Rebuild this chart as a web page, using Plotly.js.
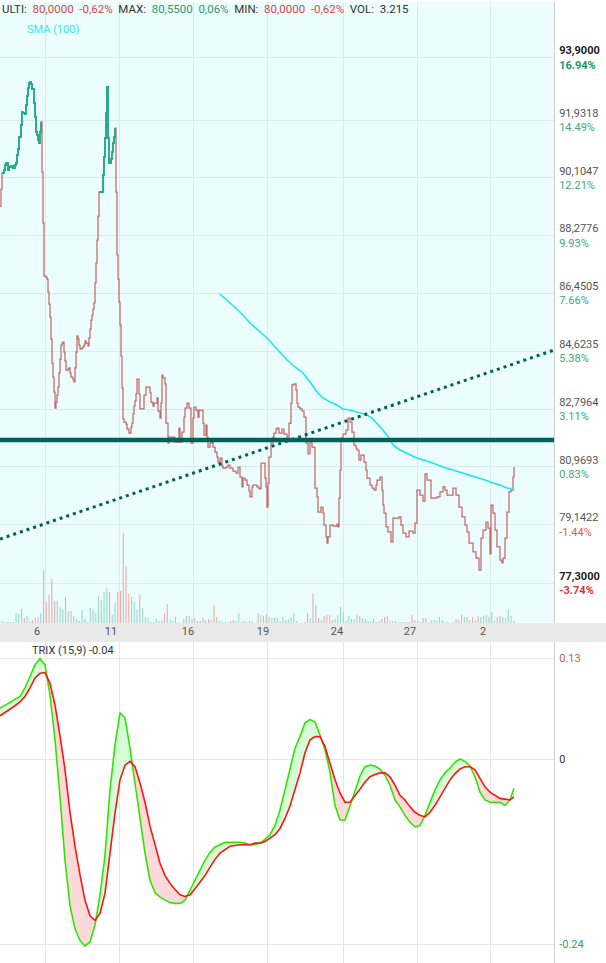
<!DOCTYPE html>
<html><head><meta charset="utf-8">
<script src="https://cdn.plot.ly/plotly-3.0.1.min.js"></script>
<style>html,body{margin:0;padding:0;background:#fff}#chart{width:606px;height:963px}</style>
</head><body><div id="chart"></div>
<script>
// ---------- data ----------
// x unit: time slot (one column of the original drawing)
const dayLabels = ['6','11','16','19','24','27','2'];
const dayLabelSlots = [37,111,188,263,337,410,483];
const dayGridSlots = [45,119,193,267,343,417,490];

const priceSlots = [0,1,2,4,5,6,8,9,11,13,15,16,17,18,19,21,22,23,25,26,27,28,29,30,31,32,34,35,36,37,38,39,40,41,
42,43,44,46,47,48,49,50,51,52,53,54,55,56,57,58,59,60,61,62,63,64,65,66,68,69,70,71,73,74,75,76,77,78,79,80,82,83,84,85,86,88,89,90,91,92,93,94,95,96,97,98,
99,103,104,105,106,107,108,109,111,112,113,114,115,
116,117,118,119,120,121,122,123,124,126,127,129,131,132,133,134,135,136,137,139,140,144,146,150,151,153,154,157,158,160,161,162,163,165,166,168,169,175,179,180,182,184,185,187,189,191,193,194,196,198,199,203,204,206,207,208,210,212,213,215,217,218,220,222,223,226,228,230,233,236,238,240,242,243,245,247,249,250,252,253,257,259,261,265,266,267,268,269,271,273,274,276,277,279,282,284,287,289,291,292,294,296,297,298,300,302,304,306,308,310,312,315,317,318,321,323,324,326,327,328,330,333,337,338,339,340,341,343,346,348,350,352,354,356,357,359,361,364,366,367,370,372,374,376,377,380,382,383,384,386,388,391,393,399,401,403,406,409,413,415,417,420,423,425,427,431,437,440,443,445,447,453,456,459,462,465,467,469,473,476,479,481,483,486,488,490,491,493,495,497,500,502,503,505,507,509,511,513,514];
const priceValues = [89.214,89.751,90.257,90.352,90.510,90.573,90.352,90.446,90.478,90.415,90.510,90.573,90.826,91.015,91.394,91.774,92.185,92.153,92.121,92.406,92.690,92.943,93.101,93.133,93.069,92.911,92.469,92.027,91.553,91.458,91.300,91.205,91.553,91.869,
90.288,88.677,87.002,86.970,86.907,86.496,86.117,85.706,85.011,84.252,83.810,83.336,82.830,83.020,83.241,83.494,83.937,84.379,84.821,84.884,84.916,84.600,84.316,84.031,84.063,84.095,83.937,83.810,83.716,83.653,84.095,84.600,85.106,85.011,84.821,84.695,84.727,84.758,84.821,84.948,84.884,84.790,85.043,85.327,85.611,85.769,85.959,86.149,86.781,87.413,88.139,88.898,
89.656,90.194,90.763,91.363,92.153,92.975,91.363,90.573,90.699,90.921,91.205,91.394,91.679,
89.656,87.666,86.907,86.180,85.453,84.474,83.462,82.483,82.388,82.324,82.166,82.040,82.230,82.356,82.641,82.893,83.052,83.273,83.747,83.273,82.799,83.241,83.494,83.305,83.020,82.893,82.988,83.147,82.735,82.514,82.988,83.873,83.779,83.589,82.356,81.724,81.914,81.756,82.198,81.756,82.072,82.546,82.830,82.988,82.830,81.724,82.514,82.862,82.767,82.546,82.767,82.356,81.977,82.293,81.914,81.598,81.724,81.756,81.598,81.440,81.282,81.124,81.250,80.997,80.934,80.966,81.029,80.934,80.839,80.776,80.966,80.650,80.334,80.618,80.555,80.397,80.208,80.018,80.334,80.397,80.334,80.271,81.092,80.618,80.334,79.701,80.460,81.282,81.724,81.914,82.040,82.166,82.198,82.040,82.166,82.008,81.914,82.356,82.988,83.558,83.589,83.399,82.988,82.862,82.799,82.735,82.546,81.724,81.377,81.756,81.598,80.302,80.018,79.543,79.701,79.511,79.133,78.754,78.564,78.754,79.133,79.101,79.164,79.070,79.986,80.871,81.882,82.008,82.135,82.514,82.388,82.072,81.661,81.566,81.503,81.187,81.345,81.124,80.871,80.618,80.397,80.302,80.239,80.397,80.555,80.650,80.239,79.765,79.511,79.070,78.912,78.596,79.354,79.386,79.133,78.880,78.754,78.943,78.880,79.196,80.239,80.081,79.891,80.745,80.555,79.986,80.018,80.176,80.334,80.239,80.081,80.302,80.081,79.701,79.386,79.133,78.912,78.564,78.280,78.090,77.711,78.722,78.975,79.227,79.038,78.217,79.765,79.511,78.975,78.438,78.027,77.933,78.090,78.722,79.543,80.176,80.239,80.650,80.966];
// stretches drawn in the "rising" colour
const upStretches = [[2,41],[99,115]];

const smaSlots = [220,230,240,250,260,267,277,287,295,303,310,317,323,330,337,343,350,357,367,372,377,382,387,393,400,408,417,430,443,453,463,477,485,493,500,507,513];
const smaValues = [86.433,86.149,85.864,85.516,85.232,85.043,84.695,84.347,84.126,83.937,83.653,83.336,83.147,83.020,82.925,82.799,82.767,82.704,82.609,82.514,82.356,82.166,81.977,81.661,81.503,81.377,81.250,81.124,80.966,80.871,80.776,80.650,80.555,80.460,80.397,80.302,80.271];

const volumeValues = [2,1,1,1,1,10,9,14,5,7,2,3,5,6,10,53,21,28,44,22,22,16,14,26,12,12,7,4,2,13,4,1,15,13,10,27,23,31,35,31,8,20,31,32,90,57,29,26,21,13,28,15,6,5,1,1,4,2,3,10,19,4,2,6,1,0,4,7,7,4,5,2,2,5,3,4,4,18,6,2,1,1,1,2,3,2,10,1,2,1,2,1,0,10,8,7,9,6,5,5,5,2,6,3,4,6,10,2,0,0,1,10,5,29,18,5,3,7,8,8,3,4,8,16,11,2,7,4,4,8,7,5,4,2,2,4,1,2,4,6,7,2,2,2,1,1,1,1,1,8,3,3,1,5,5,1,3,3,3,6,3,1,1,0,1,4,3,8,6,6,3,6,3,7,6,7,8,6,11,2,6,7,6,5,13,7,2];
const volumeUp = [1,1,1,1,0,1,1,1,0,1,1,0,0,0,1,0,0,0,0,0,1,1,1,0,1,0,1,1,0,1,1,1,1,1,1,1,1,1,1,0,1,1,0,0,0,0,0,1,1,1,0,1,1,1,1,1,1,1,1,0,0,1,1,0,1,1,1,1,0,0,1,0,1,0,0,0,1,0,0,1,1,1,1,0,0,1,1,1,1,1,0,1,1,0,1,1,0,1,1,1,1,0,1,0,1,1,1,1,1,1,0,0,1,0,0,0,1,0,0,1,0,1,1,1,1,1,1,1,1,0,0,1,0,1,1,0,1,0,0,0,0,0,1,1,1,1,1,0,1,0,1,1,1,0,0,0,1,1,1,1,1,1,1,1,1,0,0,0,1,0,1,0,1,0,1,1,1,0,1,1,0,0,1,1,1,1,1];

const supportLevel = 81.82;
const trendLineStart = 78.69, trendLineEnd = 84.66;

const priceTicks = [93.9,91.9318,90.1047,88.2776,86.4505,84.6235,82.7964,80.9693,79.1422,77.3];
const priceTickText = ['93,9000','91,9318','90,1047','88,2776','86,4505','84,6235','82,7964','80,9693','79,1422','77,3000'];
const priceTickPct = ['16.94%','14.49%','12.21%','9.93%','7.66%','5.38%','3.11%','0.83%','-1.44%','-3.74%'];

const trixSlots = [0,5,10,15,20,25,30,35,40,45,50,55,60,65,70,75,80,85,90,95,100,105,110,115,120,125,130,135,140,145,150,155,160,165,170,175,180,185,190,195,200,205,210,215,220,225,230,235,240,245,250,255,260,265,270,275,280,285,290,295,300,305,310,315,320,325,330,335,340,345,350,355,360,365,370,375,380,385,390,395,400,405,410,415,420,425,430,435,440,445,450,455,460,465,470,475,480,485,490,495,500,505,510,514];
const trixValues = [0.066,0.070,0.074,0.078,0.081,0.092,0.107,0.122,0.130,0.122,0.083,0.025,-0.049,-0.131,-0.190,-0.220,-0.235,-0.242,-0.237,-0.215,-0.177,-0.125,-0.040,0.018,0.060,0.053,0.014,-0.031,-0.079,-0.122,-0.157,-0.173,-0.179,-0.182,-0.186,-0.187,-0.187,-0.183,-0.170,-0.156,-0.144,-0.131,-0.121,-0.114,-0.111,-0.108,-0.108,-0.108,-0.108,-0.109,-0.111,-0.111,-0.109,-0.104,-0.098,-0.086,-0.066,-0.040,-0.012,0.014,0.029,0.047,0.051,0.048,0.031,0.012,-0.017,-0.060,-0.079,-0.079,-0.061,-0.040,-0.022,-0.010,-0.008,-0.009,-0.013,-0.021,-0.034,-0.053,-0.062,-0.073,-0.082,-0.088,-0.086,-0.073,-0.056,-0.040,-0.027,-0.018,-0.012,-0.004,0.000,-0.003,-0.009,-0.023,-0.043,-0.053,-0.056,-0.056,-0.056,-0.060,-0.053,-0.038];
const trixSignal = [0.056,0.060,0.064,0.069,0.074,0.081,0.092,0.105,0.111,0.112,0.098,0.070,0.030,-0.014,-0.069,-0.113,-0.150,-0.183,-0.203,-0.209,-0.200,-0.174,-0.122,-0.070,-0.027,-0.008,-0.003,-0.010,-0.031,-0.056,-0.087,-0.113,-0.135,-0.151,-0.161,-0.169,-0.176,-0.178,-0.176,-0.168,-0.160,-0.151,-0.140,-0.130,-0.122,-0.117,-0.113,-0.112,-0.111,-0.111,-0.111,-0.109,-0.109,-0.107,-0.103,-0.098,-0.090,-0.077,-0.061,-0.040,-0.018,0.008,0.025,0.029,0.029,0.016,-0.005,-0.027,-0.044,-0.056,-0.056,-0.048,-0.039,-0.030,-0.023,-0.020,-0.018,-0.018,-0.023,-0.034,-0.047,-0.053,-0.062,-0.069,-0.073,-0.075,-0.069,-0.060,-0.049,-0.038,-0.027,-0.019,-0.013,-0.010,-0.010,-0.014,-0.026,-0.036,-0.043,-0.047,-0.051,-0.052,-0.053,-0.049];
const trixTicks = [0.13,0,-0.24];
const trixTickText = ['0.13','0','-0.24'];

// ---------- layout constants ----------
const W = 606, H = 963;
const plotRight = 554;                 // px
const mainTop = 2, mainBottom = 623;   // px
const stripBottom = 642;               // px (bottom of date strip, top of TRIX)
const volFirst = 2.3, volStep = 2.75;  // slot position of bars
const py = p => (H - p) / H;
const xDom = [0, plotRight / W];

const C = {red:'#c46868', green:'#1aae8b', sma:'#1ee6ee', level:'#00605a',
  volUp:'#98d8c4', volDn:'#ecaaaa', grid:'#d8eaea', trixG:'#2ee600', trixR:'#ff1414'};
const FONT = 'Roboto, "Open Sans", sans-serif';

const traces = [];
// volume
traces.push({type:'bar', x: volumeValues.map((v,i)=>volFirst + i*volStep), y: volumeValues,
  marker:{color: volumeUp.map(u=>u?C.volUp:C.volDn), line:{width:0}}, width: 1.1,
  xaxis:'x', yaxis:'y3', hoverinfo:'skip'});
// price (falling colour everywhere, then rising stretches on top)
traces.push({type:'scatter', mode:'lines', x: priceSlots, y: priceValues,
  line:{color:C.red, width:1.25, shape:'hv'}, xaxis:'x', yaxis:'y', hoverinfo:'skip'});
upStretches.forEach(([a,b])=>{
  const xs=[], ys=[];
  priceSlots.forEach((s,i)=>{ if(s>=a && s<=b){ xs.push(s); ys.push(priceValues[i]); } });
  traces.push({type:'scatter', mode:'lines', x: xs, y: ys,
    line:{color:C.green, width:1.8, shape:'hv'}, xaxis:'x', yaxis:'y', hoverinfo:'skip'});
});
// SMA
traces.push({type:'scatter', mode:'lines', x: smaSlots, y: smaValues,
  line:{color:C.sma, width:1.6}, xaxis:'x', yaxis:'y', hoverinfo:'skip'});
// horizontal level
traces.push({type:'scatter', mode:'lines', x:[0, plotRight], y:[supportLevel, supportLevel],
  line:{color:C.level, width:4.5}, xaxis:'x', yaxis:'y', hoverinfo:'skip'});
// dotted trend line
traces.push({type:'scatter', mode:'lines', x:[0, plotRight], y:[trendLineStart, trendLineEnd],
  line:{color:C.level, width:3, dash:'3px,4px'}, xaxis:'x', yaxis:'y', hoverinfo:'skip'});
// date labels axis carrier
traces.push({type:'scatter', mode:'markers', x:[0], y:[80], marker:{opacity:0}, xaxis:'x3', yaxis:'y', hoverinfo:'skip'});

// TRIX fills
const hi = trixValues.map((v,i)=>Math.max(v, trixSignal[i]));
const lo = trixValues.map((v,i)=>Math.min(v, trixSignal[i]));
traces.push({type:'scatter', mode:'lines', x:trixSlots, y:trixSignal, line:{width:0}, xaxis:'x2', yaxis:'y2', hoverinfo:'skip'});
traces.push({type:'scatter', mode:'lines', x:trixSlots, y:hi, line:{width:0}, fill:'tonexty', fillcolor:'#d8fcd8', xaxis:'x2', yaxis:'y2', hoverinfo:'skip'});
traces.push({type:'scatter', mode:'lines', x:trixSlots, y:trixSignal, line:{width:0}, xaxis:'x2', yaxis:'y2', hoverinfo:'skip'});
traces.push({type:'scatter', mode:'lines', x:trixSlots, y:lo, line:{width:0}, fill:'tonexty', fillcolor:'#fddada', xaxis:'x2', yaxis:'y2', hoverinfo:'skip'});
traces.push({type:'scatter', mode:'lines', x:trixSlots, y:trixValues, line:{color:C.trixG, width:1.6}, xaxis:'x2', yaxis:'y2', hoverinfo:'skip'});
traces.push({type:'scatter', mode:'lines', x:trixSlots, y:trixSignal, line:{color:C.trixR, width:1.6}, xaxis:'x2', yaxis:'y2', hoverinfo:'skip'});

// tick texts
const priceLabels = priceTickText.map((t,i)=>{
  const edge = (i===0 || i===priceTickText.length-1);
  const neg = priceTickPct[i].startsWith('-');
  const pc = edge ? (neg?'#d8343a':'#17956a') : (neg?'#e0585c':'#3fa67e');
  const vc = edge ? '#222' : '#555';
  const v = edge ? '<b>'+t+'</b>' : t;
  const p = edge ? '<b>'+priceTickPct[i]+'</b>' : priceTickPct[i];
  return "<span style='color:"+vc+"'>"+v+"</span><br><span style='color:"+pc+"'>"+p+"</span>";
});
const trixColors = ['#d0575a','#333','#2f9d72'];
const trixLabels = trixTickText.map((t,i)=>"<span style='color:"+trixColors[i]+"'>"+t+"</span>");

const mainRange = [95.724 - 0.031602*mainBottom, 95.724 - 0.031602*mainTop];

const layout = {
  width: W, height: H, margin:{l:0,r:0,t:0,b:0}, showlegend:false,
  paper_bgcolor:'#ffffff', plot_bgcolor:'rgba(0,0,0,0)',
  font:{family:FONT, size:11, color:'#444'},
  xaxis:{domain:xDom, range:[0, plotRight], anchor:'y', tickvals:dayGridSlots, showticklabels:false,
    showgrid:true, gridcolor:C.grid, gridwidth:1, zeroline:false, showline:false, ticks:'', fixedrange:true},
  xaxis3:{domain:xDom, overlaying:'x', anchor:'free', position: py(mainBottom), side:'bottom',
    range:[0, plotRight], tickvals:dayLabelSlots, ticktext:dayLabels, showgrid:false, zeroline:false,
    showline:false, ticks:'', tickfont:{size:11, color:'#555', family:FONT}, fixedrange:true},
  yaxis:{domain:[py(mainBottom), py(mainTop)], range: mainRange, side:'right', anchor:'x',
    tickvals: priceTicks, ticktext: priceLabels, showgrid:true, gridcolor:C.grid, zeroline:false,
    showline:true, linecolor:'#cfcfcf', linewidth:1, ticks:'', ticklabelstandoff:2,
    tickfont:{size:11, family:FONT}, fixedrange:true},
  yaxis3:{domain:[py(mainBottom), py(mainTop)], overlaying:'y', range:[0, mainBottom-mainTop], visible:false, fixedrange:true},
  xaxis2:{domain:xDom, range:[0, plotRight], anchor:'y2', tickvals:dayGridSlots, showticklabels:false,
    showgrid:true, gridcolor:'#e6e6e6', zeroline:false, showline:false, ticks:'', fixedrange:true},
  yaxis2:{domain:[0, py(stripBottom)], range:[-(H-759)/772, (759-stripBottom)/772], side:'right', anchor:'x2',
    tickvals: trixTicks, ticktext: trixLabels, showgrid:true, gridcolor:'#e6e6e6', zeroline:false,
    showline:true, linecolor:'#cfcfcf', ticks:'', ticklabelstandoff:2, tickfont:{size:11, family:FONT}, fixedrange:true},
  shapes:[
    {type:'rect', xref:'paper', yref:'paper', x0:0, x1:plotRight/W, y0:py(mainBottom), y1:py(mainTop),
      fillcolor:'#ecfdfd', line:{width:0}, layer:'below'},
    {type:'rect', xref:'paper', yref:'paper', x0:0, x1:1, y0:py(stripBottom), y1:py(mainBottom),
      fillcolor:'#e9e9e9', line:{width:0}, layer:'below'}
  ],
  annotations:[
    {xref:'paper', yref:'paper', x:0, y:py(8.5), xanchor:'left', yanchor:'middle', showarrow:false,
      font:{family:FONT, size:11.5, color:'#333'},
      text:"ULTI:&nbsp;&nbsp;<span style='color:#d2474b'>80,0000</span>&nbsp;&nbsp;<span style='color:#d2474b'>-0,62%</span>&nbsp;&nbsp;MAX:&nbsp;&nbsp;<span style='color:#2f9a6e'>80,5500</span>&nbsp;&nbsp;<span style='color:#2f9a6e'>0,06%</span>&nbsp;&nbsp;MIN:&nbsp;&nbsp;<span style='color:#d2474b'>80,0000</span>&nbsp;&nbsp;<span style='color:#d2474b'>-0,62%</span>&nbsp;&nbsp;VOL:&nbsp;&nbsp;3.215"},
    {xref:'paper', yref:'paper', x:25/W, y:py(29), xanchor:'left', yanchor:'middle', showarrow:false,
      font:{family:FONT, size:11, color:'#3fe3ea'}, text:'SMA (100)'},
    {xref:'paper', yref:'paper', x:30/W, y:py(650), xanchor:'left', yanchor:'middle', showarrow:false,
      font:{family:FONT, size:11, color:'#333'}, text:'TRIX (15,9) -0.04'}
  ]
};

Plotly.newPlot('chart', traces, layout, {staticPlot:true, displayModeBar:false});
</script></body></html>
